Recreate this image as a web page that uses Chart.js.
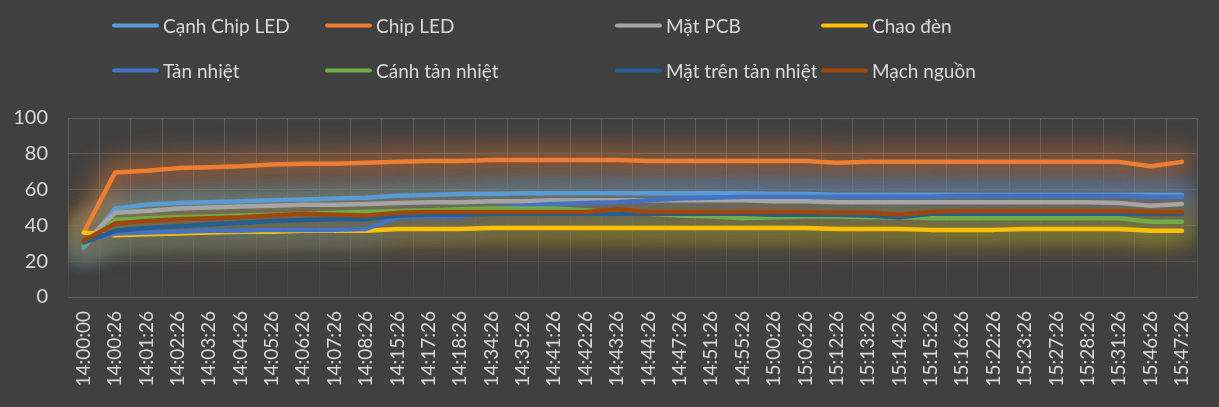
<!DOCTYPE html>
<html>
<head>
<meta charset="utf-8">
<script src="https://cdn.jsdelivr.net/npm/chart.js@4"></script>
<style>
  body { margin: 0; background: #404040; }
  #wrap { position: relative; width: 1219px; height: 407px; }
  #legend { position: absolute; left: 0; top: 0; width: 1219px; height: 100px; }
  .item { position: absolute; display: flex; align-items: center; font-family: Lato, "Noto Sans", sans-serif; font-size: 19px; color: #d9d9d9; white-space: nowrap; transform: translateY(-50%); }
  .swatch { width: 47px; height: 4px; border-radius: 2px; margin-right: 4px; }
</style>
</head>
<body>
<div id="wrap">
  <canvas id="ChartElem" width="1219" height="407"></canvas>
  <div id="legend"></div>
</div>
<script>
var timeLabels = ['14:00:00','14:00:26','14:01:26','14:02:26','14:03:26','14:04:26','14:05:26','14:06:26','14:07:26','14:08:26',
    '14:15:26','14:17:26','14:18:26','14:34:26','14:35:26','14:41:26','14:42:26','14:43:26','14:44:26','14:47:26',
    '14:51:26','14:55:26','15:00:26','15:06:26','15:12:26','15:13:26','15:14:26','15:15:26','15:16:26','15:22:26',
    '15:23:26','15:27:26','15:28:26','15:31:26','15:46:26','15:47:26'];

var seriesNames = ['Cạnh Chip LED', 'Chip LED', 'Mặt PCB', 'Chao đèn', 'Tản nhiệt', 'Cánh tản nhiệt', 'Mặt trên tản nhiệt', 'Mạch nguồn'];
var seriesColors = ['#5B9BD5', '#ED7D31', '#A5A5A5', '#FFC000', '#4472C4', '#70AD47', '#255E91', '#9E480E'];

var canhChipLed = [27.5, 49.5, 51.5, 52.5, 53, 53.5, 54, 54.5, 55, 55.5, 56.5, 57, 57.5, 57.5, 58, 58, 58, 58, 58, 58, 58, 58, 57.5, 57.5, 57, 57, 57, 57, 57, 57, 57, 57, 57, 57, 57, 57];
var chipLed = [36, 69.5, 70.5, 72, 72.5, 73, 74, 74.5, 74.5, 75, 75.5, 76, 76, 76.5, 76.5, 76.5, 76.5, 76.5, 76, 76, 76, 76, 76, 76, 75, 75.5, 75.5, 75.5, 75.5, 75.5, 75.5, 75.5, 75.5, 75.5, 73, 75.5];
var matPcb = [30, 47, 48, 49.5, 50, 50.5, 51, 51.5, 51.5, 52, 52.5, 53, 53, 53.5, 53.5, 54, 54, 54, 54, 54, 54, 54, 53.5, 53.5, 53, 53, 53, 53, 53, 53, 53, 53, 53, 52.5, 51, 52];
var chaoDen = [36, 34.5, 35, 35.5, 36, 36.5, 36.5, 37, 37, 37, 38, 38, 38, 38.5, 38.5, 38.5, 38.5, 38.5, 38.5, 38.5, 38.5, 38.5, 38.5, 38.5, 38, 38, 38, 37.5, 37.5, 37.5, 38, 38, 38, 38, 37, 37];
var tanNhiet = [31, 35.5, 36, 36.5, 37, 37, 37.5, 37.5, 37.5, 38, 44.5, 45, 45, 49.5, 51, 52, 52.5, 53, 54, 55, 55.5, 56, 56, 56, 56, 56, 56, 56, 56.5, 56.5, 56.5, 56.5, 56.5, 56.5, 56, 56];
var canhTanNhiet = [29, 43, 44, 44.5, 45, 45.5, 46, 46.5, 47, 47.5, 48, 48.5, 49, 49.5, 49.5, 49.5, 48.5, 47, 46.5, 45.5, 45, 44, 44.5, 45, 45, 44.5, 44.5, 44, 44, 44, 44, 44, 44, 44, 42, 42];
var matTrenTanNhiet = [30.5, 37, 38.5, 39.5, 40.5, 41.5, 42.5, 43, 43.5, 43.5, 45.5, 46, 46, 46.5, 46.5, 46.5, 46.5, 46.5, 46.5, 46.5, 46.5, 46.5, 46, 46, 46, 45.5, 44.5, 46.5, 46.5, 46.5, 46.5, 46.5, 46.5, 46.5, 46.5, 46.5];
var machNguon = [31.5, 41, 42.5, 43.5, 44, 44.5, 45.5, 46.5, 46, 45.5, 47, 47.5, 47.5, 47.5, 47.5, 47.5, 47.5, 49, 47.5, 47.5, 47.5, 47.5, 47.5, 47.5, 47, 47, 46, 47.5, 48, 48, 48, 48, 48, 48, 47.5, 47.5];

var seriesValues = [canhChipLed, chipLed, matPcb, chaoDen, tanNhiet, canhTanNhiet, matTrenTanNhiet, machNguon];

// legend column / row positions (2 rows of 4)
var legendCols = [112, 325, 615, 821];
var legendRows = [25, 70];

// soft glow under every line, like the excel "glow" effect
var glowPlugin = {
    id: 'glow',
    beforeDatasetsDraw: function (chart) {
        var ctx = chart.ctx;
        var area = chart.chartArea;
        ctx.save();
        ctx.beginPath();
        ctx.rect(area.left, area.top, area.right - area.left, area.bottom - area.top);
        ctx.clip();
        for (let i = 0; i < chart.data.datasets.length; i++) {
            var meta = chart.getDatasetMeta(i);
            var ds = chart.data.datasets[i];
            ctx.save();
            ctx.filter = 'blur(12px)';
            ctx.globalAlpha = 0.45;
            ctx.strokeStyle = ds.borderColor;
            ctx.lineWidth = 26;
            ctx.lineJoin = 'round';
            ctx.lineCap = 'round';
            ctx.beginPath();
            meta.data.forEach(function (pt, k) {
                if (k === 0) ctx.moveTo(pt.x, pt.y); else ctx.lineTo(pt.x, pt.y);
            });
            ctx.stroke();
            ctx.restore();
        }
        ctx.restore();
    }
};

function GridColor(ctx) {
    var area = ctx.chart.chartArea;
    if (!area) return '#5a5a5a';
    var g = ctx.chart.ctx.createLinearGradient(0, area.top, 0, area.bottom);
    g.addColorStop(0, '#606060');
    g.addColorStop(0.6, '#575757');
    g.addColorStop(1, '#454545');
    return g;
}

function BuildChart() {
    var datasets = [];
    for (let i = 0; i < seriesNames.length; i++) {
        datasets.push({
            label: seriesNames[i],
            data: seriesValues[i],
            borderColor: seriesColors[i],
            backgroundColor: seriesColors[i],
            borderWidth: 4.5,
            borderCapStyle: 'round',
            borderJoinStyle: 'round',
            pointRadius: 0,
            tension: 0,
            order: seriesNames.length - i
        });
    }

    var chartContext = document.getElementById("ChartElem").getContext("2d");
    var chart = new Chart(chartContext, {
        type: 'line',
        data: { labels: timeLabels, datasets: datasets },
        options: {
            responsive: false,
            animation: false,
            layout: { padding: { top: 118, right: 19, left: 0, bottom: 0 } },
            plugins: { legend: { display: false }, tooltip: { enabled: false } },
            scales: {
                x: {
                    offset: true,
                    grid: { offset: true, color: GridColor, drawTicks: false },
                    border: { color: '#5f5f5f' },
                    ticks: {
                        autoSkip: false, maxRotation: 90, minRotation: 90, padding: 14,
                        color: '#d9d9d9', font: { family: 'Lato', size: 19 }
                    },
                    afterFit: function (scale) { scale.height = 110; }
                },
                y: {
                    min: 0, max: 100,
                    grid: { color: GridColor, drawTicks: false },
                    border: { display: false },
                    ticks: {
                        stepSize: 20, padding: 20,
                        color: '#d9d9d9', font: { family: 'Lato', size: 20 }
                    },
                    afterFit: function (scale) { scale.width = 68; }
                }
            }
        },
        plugins: [glowPlugin]
    });

    // html legend, 2 rows x 4 columns
    var legend = document.getElementById('legend');
    chart.data.datasets.forEach(function (ds, i) {
        var item = document.createElement('div');
        item.className = 'item';
        item.style.left = legendCols[i % 4] + 'px';
        item.style.top = legendRows[Math.floor(i / 4)] + 'px';
        var sw = document.createElement('span');
        sw.className = 'swatch';
        sw.style.background = ds.borderColor;
        item.appendChild(sw);
        item.appendChild(document.createTextNode(ds.label));
        legend.appendChild(item);
    });
}

BuildChart();
</script>
</body>
</html>
